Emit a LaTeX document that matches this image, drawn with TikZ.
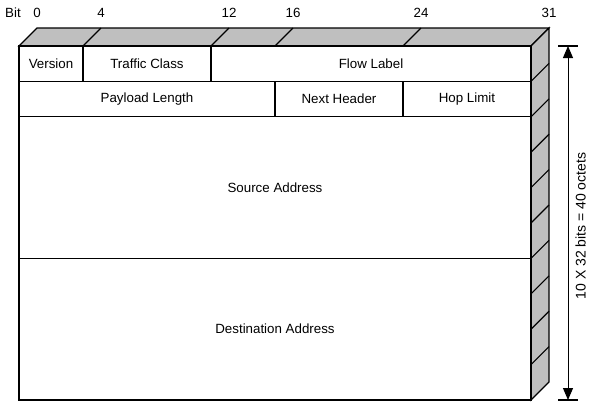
\documentclass[tikz,border=0pt]{standalone}
\usepackage{fontspec}
\setmainfont{Liberation Sans}
\usetikzlibrary{arrows.meta}
\begin{document}
\begin{tikzpicture}[x=0.75pt,y=-0.75pt,
  edge/.style={line width=0.85pt, line join=miter},
  side/.style={edge, fill=black!25},
  field/.style={draw, line width=0.85pt, fill=white, rectangle, inner sep=0pt, outer sep=0pt,
    font=\fontsize{10}{12}\selectfont},
  bitlbl/.style={font=\fontsize{10}{12}\selectfont, inner sep=0pt},
  dimlbl/.style={font=\fontsize{10.5}{12}\selectfont, inner sep=0pt, rotate=90}]
\useasboundingbox (0,0) rectangle (589,401);
% top face
\draw[side] (19,46) -- (37,28) -- (549,28) -- (531,46) -- cycle;
\foreach \x in {83,211,275,403} \draw[edge] (\x,46) -- (\x+18,28);
% right face
\draw[side] (531,46) -- (549,28) -- (549,382) -- (531,400) -- cycle;
\foreach \k in {1,...,9} \draw[edge] (531,46+35.4*\k) -- (549,28+35.4*\k);
% fields
\node[field, minimum width=64*0.75pt, minimum height=35.4*0.75pt] (ver) at (51,63.7) {Version};
\node[field, minimum width=128*0.75pt, minimum height=35.4*0.75pt] (tc) at (147,63.7) {Traffic Class};
\node[field, minimum width=320*0.75pt, minimum height=35.4*0.75pt] (fl) at (371,63.7) {Flow Label};
\node[field, minimum width=256*0.75pt, minimum height=35.4*0.75pt] (pl) at (147,99.1) {Payload Length};
\node[field, minimum width=128*0.75pt, minimum height=35.4*0.75pt] (nh) at (339,99.1) {Next Header};
\node[field, minimum width=128*0.75pt, minimum height=35.4*0.75pt] (hl) at (467,99.1) {Hop Limit};
\node[field, minimum width=512*0.75pt, minimum height=141.6*0.75pt] (src) at (275,187.6) {Source Address};
\node[field, minimum width=512*0.75pt, minimum height=141.6*0.75pt] (dst) at (275,329.2) {Destination Address};
% bit labels
\node[bitlbl] (bit) at (13,13) {Bit};
\node[bitlbl] (b0) at (37,13) {0};
\node[bitlbl] (b4) at (101,13) {4};
\node[bitlbl] (b12) at (229,13) {12};
\node[bitlbl] (b16) at (293,13) {16};
\node[bitlbl] (b24) at (421,13) {24};
\node[bitlbl] (b31) at (549,13) {31};
% dimension arrow
\coordinate (atop) at (568,46);
\coordinate (abot) at (568,400);
\draw[edge] (558,46) -- (578,46);
\draw[edge] (558,400) -- (578,400);
\draw[line width=0.75pt, {Triangle[length=9pt,width=7.5pt]}-{Triangle[length=9pt,width=7.5pt]}] (atop) -- (abot);
\node[dimlbl] (dim) at (580.5,226) {10 X 32 bits = 40 octets};
\end{tikzpicture}
\end{document}
